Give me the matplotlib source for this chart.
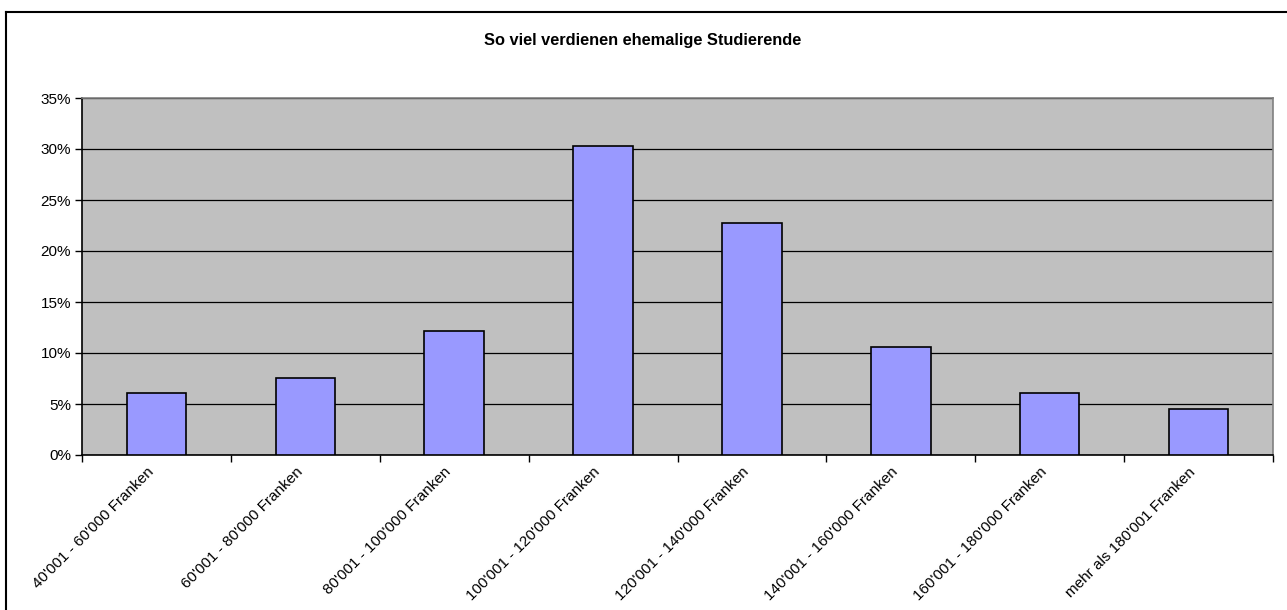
import numpy as np
import matplotlib
matplotlib.use('Agg')
import matplotlib.pyplot as plt
import matplotlib.transforms as mtransforms
from matplotlib.lines import Line2D
from matplotlib.ticker import PercentFormatter

plt.rcParams['font.family'] = ['Liberation Sans', 'DejaVu Sans']

kategorien = ["40'001 - 60'000 Franken", "60'001 - 80'000 Franken",
              "80'001 - 100'000 Franken", "100'001 - 120'000 Franken",
              "120'001 - 140'000 Franken", "140'001 - 160'000 Franken",
              "160'001 - 180'000 Franken", "mehr als 180'001 Franken"]
anteile = [6.06, 7.58, 12.12, 30.30, 22.73, 10.61, 6.06, 4.55]
yticks = [0, 5, 10, 15, 20, 25, 30, 35]
titel = 'So viel verdienen ehemalige Studierende'

W, H = 1287, 610
fig = plt.figure(figsize=(W/100, H/100), dpi=100)
fig.patch.set_facecolor('white')

# plot area in pixels: x 82..1273, y 98..455
ax = fig.add_axes([82/W, 1-455/H, (1273-82)/W, (455-98)/H])
ax.set_facecolor('#c0c0c0')

x = np.arange(len(kategorien))
ax.bar(x, anteile, width=0.4, color='#9999ff', edgecolor='black', linewidth=1.2, zorder=3)

ax.set_xlim(-0.5, len(kategorien)-0.5)
ax.set_ylim(0, 35)
ax.set_yticks(yticks)
ax.yaxis.set_major_formatter(PercentFormatter(decimals=0))
ax.yaxis.grid(True, color='black', linewidth=0.9, zorder=1)
ax.set_axisbelow(True)

# tick marks between categories, labels at category centres
ax.set_xticks(np.arange(len(kategorien)+1)-0.5)
ax.set_xticklabels([])
ax.set_xticks(x, minor=True)
ax.set_xticklabels(kategorien, minor=True, rotation=45, ha='right', va='top',
                   rotation_mode='anchor', fontsize=11)
ax.tick_params(axis='x', which='minor', length=0, pad=7)
ax.tick_params(axis='x', which='major', length=5, width=1, direction='out')
ax.tick_params(axis='y', length=5, width=1, direction='out', labelsize=11, pad=3)

# shift the rotated labels a bit to the left
shift = mtransforms.ScaledTranslation(-10/100, 0, fig.dpi_scale_trans)
for lab in ax.get_xticklabels(minor=True):
    lab.set_transform(lab.get_transform() + shift)

for s in ['left', 'bottom']:
    ax.spines[s].set_color('black')
    ax.spines[s].set_linewidth(1.2)
for s in ['top', 'right']:
    ax.spines[s].set_color('#808080')
    ax.spines[s].set_linewidth(1.2)

fig.text(643/W, 1-41/H, titel, ha='center', va='center', fontsize=11.8, fontweight='bold')

# chart frame (only top and left visible)
fig.add_artist(Line2D([6/W, 1.0], [1-12/H, 1-12/H], color='black', linewidth=1.5))
fig.add_artist(Line2D([6/W, 6/W], [0, 1-12/H], color='black', linewidth=1.5))

fig.savefig('out.png', dpi=100)
